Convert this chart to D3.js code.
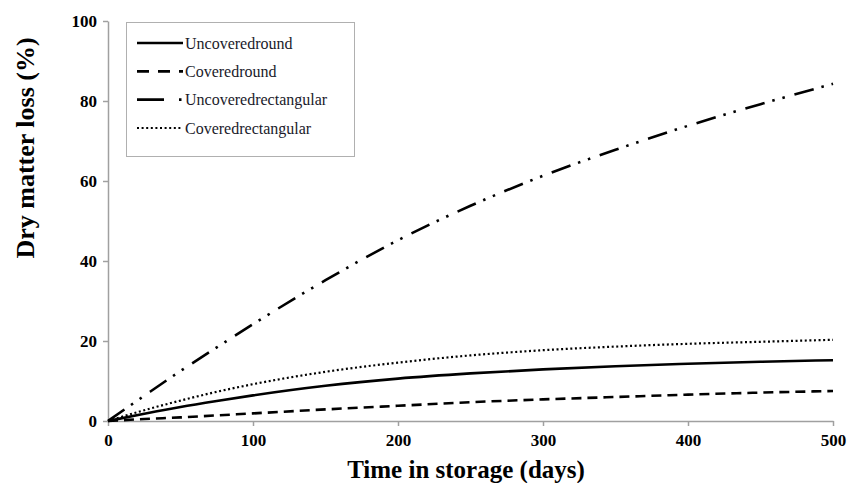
<!DOCTYPE html>
<html>
<head>
<meta charset="utf-8">
<script src="https://cdn.jsdelivr.net/npm/d3@7"></script>
<style>
  body { margin: 0; background: #fff; }
  svg { display: block; font-family: "Liberation Serif", "Times New Roman", serif; }
</style>
</head>
<body>
<div id="chart"></div>
<script>
'use strict';

// data
var days = [0, 25, 50, 75, 100, 150, 200, 250, 300, 350, 400, 450, 500];
var uncoveredRound = [0, 1.8, 3.5, 5.0, 6.4, 8.8, 10.6, 11.9, 12.9, 13.7, 14.3, 14.8, 15.2];
var coveredRound = [0, 0.5, 0.9, 1.4, 1.9, 2.9, 3.8, 4.7, 5.4, 6.0, 6.6, 7.1, 7.5];
var uncoveredRect = [0, 6.3, 12.5, 18.4, 24.2, 35.2, 45.2, 53.8, 61.3, 67.8, 73.8, 79.2, 84.3];
var coveredRect = [0, 2.7, 5.1, 7.3, 9.2, 12.3, 14.6, 16.4, 17.7, 18.6, 19.3, 19.8, 20.3];

var seriesNames = ['Uncovered round', 'Covered round', 'Uncovered rectangular', 'Covered rectangular'];
var xTicks = [0, 100, 200, 300, 400, 500];
var yTicks = [0, 20, 40, 60, 80, 100];

var width = 851, height = 483;
var margin = {left: 108, right: 18, top: 21, bottom: 62};

var svg = d3.select('#chart').append('svg')
  .attr('width', width)
  .attr('height', height);

var xScale = d3.scaleLinear()
  .domain([0, 500])
  .range([margin.left, width - margin.right]);

var yScale = d3.scaleLinear()
  .domain([0, 100])
  .range([height - margin.bottom, margin.top]);

// styles for each series
var styles = [
  {dash: null, width: 2.6, legendDash: null},
  {dash: '10,6', width: 2.6, legendDash: '12,9'},
  {dash: '20,8,2.5,8,2.5,10', width: 2.6, legendDash: '27,15,2.5,100'},
  {dash: '2,2.6', width: 2.2, legendDash: '2,2.6'}
];

var series = [uncoveredRound, coveredRound, uncoveredRect, coveredRect].map(function(vals, i){
  return {name: seriesNames[i], style: styles[i], values: vals.map(function(v, j){ return {x: days[j], y: v}; })};
});

// axes
var axisColor = '#a0a0a0';

var xAxis = svg.append('g')
  .attr('transform', 'translate(0,' + yScale(0) + ')')
  .call(d3.axisBottom(xScale).tickValues(xTicks).tickSize(5).tickPadding(8).tickSizeOuter(0));

var yAxis = svg.append('g')
  .attr('transform', 'translate(' + xScale(0) + ',0)')
  .call(d3.axisLeft(yScale).tickValues(yTicks).tickSize(5).tickPadding(6).tickSizeOuter(0));

[xAxis, yAxis].forEach(function(ax){
  ax.select('.domain').attr('stroke', axisColor).attr('stroke-width', 1.5);
  ax.selectAll('.tick line').attr('stroke', axisColor).attr('stroke-width', 1.5);
  ax.selectAll('.tick text')
    .attr('fill', '#000')
    .style('font-family', '"Liberation Serif", serif')
    .style('font-weight', 'bold')
    .style('font-size', '17px');
});

// lines
var line = d3.line()
  .x(function(d){ return xScale(d.x); })
  .y(function(d){ return yScale(d.y); })
  .curve(d3.curveMonotoneX);

svg.selectAll('.series')
    .data(series)
  .enter().append('path')
    .attr('class', 'series')
    .attr('fill', 'none')
    .attr('stroke', '#000')
    .attr('stroke-width', function(d){ return d.style.width; })
    .attr('stroke-dasharray', function(d){ return d.style.dash; })
    .attr('d', function(d){ return line(d.values); });

// axis titles
svg.append('text')
  .attr('x', 466)
  .attr('y', 478)
  .attr('text-anchor', 'middle')
  .style('font-weight', 'bold')
  .style('font-size', '25px')
  .text('Time in storage (days)');

svg.append('text')
  .attr('transform', 'translate(34,148) rotate(-90)')
  .attr('text-anchor', 'middle')
  .style('font-weight', 'bold')
  .style('font-size', '26px')
  .text('Dry matter loss (%)');

// legend
var legend = svg.append('g');

legend.append('rect')
  .attr('x', 126.5)
  .attr('y', 22.5)
  .attr('width', 228)
  .attr('height', 134)
  .attr('fill', '#fff')
  .attr('stroke', '#b0b0b0')
  .attr('stroke-width', 1);

var rowY = d3.scalePoint()
  .domain(seriesNames)
  .range([43, 128]);

var rows = legend.selectAll('.row')
    .data(series)
  .enter().append('g')
    .attr('class', 'row')
    .attr('transform', function(d){ return 'translate(0,' + rowY(d.name) + ')'; });

rows.append('line')
  .attr('x1', 137)
  .attr('x2', 183)
  .attr('stroke', '#000')
  .attr('stroke-width', function(d){ return d.style.width; })
  .attr('stroke-dasharray', function(d){ return d.style.legendDash; });

rows.append('text')
  .attr('x', 185)
  .attr('dy', '0.35em')
  .style('font-size', '16px')
  .style('word-spacing', '-4px')
  .attr('fill', '#1a1a2a')
  .text(function(d){ return d.name; });
</script>
</body>
</html>
